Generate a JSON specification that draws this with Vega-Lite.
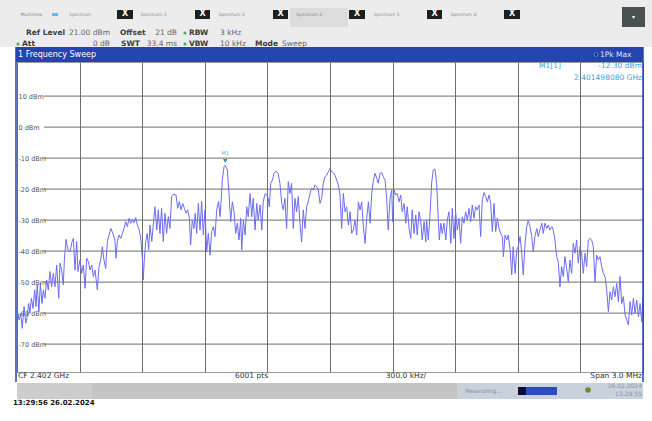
{
  "$schema": "https://vega.github.io/schema/vega-lite/v6.json",
  "width": 626,
  "height": 310,
  "autosize": {"type": "none"},
  "padding": {"left": 17, "top": 62, "right": 9, "bottom": 49},
  "background": "white",
  "config": {"view": {"stroke": "#9a9a9a", "strokeWidth": 1}, "text": {"font": "DejaVu Sans"}},
  "encoding": {
    "x": {"field": "f", "type": "quantitative", "scale": {"domain": [2400.5, 2403.5], "nice": false, "zero": false},
      "axis": {"title": null, "values": [2400.5, 2400.8, 2401.1, 2401.4, 2401.7, 2402.0, 2402.3, 2402.6, 2402.9, 2403.2, 2403.5], "grid": true, "gridColor": "#6e6e6e", "gridWidth": 1, "labels": false, "ticks": false, "domain": false}},
    "y": {"field": "dBm", "type": "quantitative", "scale": {"domain": [-79, 21], "nice": false, "zero": false},
      "axis": {"title": null, "values": [10, 0, -10, -20, -30, -40, -50, -60, -70], "grid": false, "domain": false, "ticks": false, "tickSize": 0, "labelAlign": "left", "labelBaseline": "middle", "labelPadding": -1, "labelExpr": "datum.value + ' dBm'", "labelFont": "DejaVu Sans", "labelFontSize": 6.5, "labelColor": "#555555", "zindex": 1}}
  },
  "datasets": {
    "trace": [
      {"f":2400.500,"dBm":-58.5},{"f":2400.510,"dBm":-62.2},{"f":2400.518,"dBm":-60.1},{"f":2400.525,"dBm":-64.9},{"f":2400.534,"dBm":-57.9},{"f":2400.542,"dBm":-63.3},{"f":2400.549,"dBm":-61.1},{"f":2400.556,"dBm":-56.9},{"f":2400.562,"dBm":-60.1},{"f":2400.569,"dBm":-55.2},{"f":2400.577,"dBm":-58.5},{"f":2400.585,"dBm":-52.5},{"f":2400.591,"dBm":-57.9},{"f":2400.597,"dBm":-50.9},{"f":2400.605,"dBm":-59.5},{"f":2400.612,"dBm":-50.4},{"f":2400.620,"dBm":-56.9},{"f":2400.626,"dBm":-52.5},{"f":2400.634,"dBm":-55.2},{"f":2400.642,"dBm":-49.3},{"f":2400.650,"dBm":-52.5},{"f":2400.658,"dBm":-46.6},{"f":2400.666,"dBm":-51.5},{"f":2400.674,"dBm":-47.2},{"f":2400.682,"dBm":-51.5},{"f":2400.690,"dBm":-44.5},{"f":2400.700,"dBm":-55.2},{"f":2400.706,"dBm":-43.9},{"f":2400.714,"dBm":-46.1},{"f":2400.722,"dBm":-50.9},{"f":2400.727,"dBm":-42.9},{"f":2400.735,"dBm":-36.2},{"f":2400.744,"dBm":-39.6},{"f":2400.754,"dBm":-40.2},{"f":2400.764,"dBm":-36.9},{"f":2400.770,"dBm":-35.9},{"f":2400.778,"dBm":-46.1},{"f":2400.786,"dBm":-36.9},{"f":2400.792,"dBm":-46.6},{"f":2400.802,"dBm":-42.9},{"f":2400.810,"dBm":-47.2},{"f":2400.818,"dBm":-44.5},{"f":2400.826,"dBm":-52.0},{"f":2400.834,"dBm":-42.3},{"f":2400.842,"dBm":-43.4},{"f":2400.850,"dBm":-46.1},{"f":2400.858,"dBm":-44.5},{"f":2400.866,"dBm":-48.2},{"f":2400.874,"dBm":-46.1},{"f":2400.885,"dBm":-52.5},{"f":2400.893,"dBm":-45.0},{"f":2400.901,"dBm":-42.9},{"f":2400.909,"dBm":-38.6},{"f":2400.917,"dBm":-42.9},{"f":2400.925,"dBm":-45.6},{"f":2400.933,"dBm":-36.9},{"f":2400.941,"dBm":-34.8},{"f":2400.950,"dBm":-32.7},{"f":2400.962,"dBm":-34.8},{"f":2400.970,"dBm":-36.9},{"f":2400.974,"dBm":-42.3},{"f":2400.981,"dBm":-36.9},{"f":2400.989,"dBm":-34.8},{"f":2400.997,"dBm":-35.9},{"f":2401.005,"dBm":-34.3},{"f":2401.013,"dBm":-32.7},{"f":2401.021,"dBm":-30.5},{"f":2401.029,"dBm":-32.1},{"f":2401.037,"dBm":-29.4},{"f":2401.045,"dBm":-31.0},{"f":2401.053,"dBm":-29.8},{"f":2401.061,"dBm":-30.8},{"f":2401.069,"dBm":-29.2},{"f":2401.077,"dBm":-31.6},{"f":2401.086,"dBm":-33.2},{"f":2401.094,"dBm":-36.4},{"f":2401.102,"dBm":-43.4},{"f":2401.105,"dBm":-49.3},{"f":2401.110,"dBm":-42.9},{"f":2401.117,"dBm":-36.9},{"f":2401.124,"dBm":-34.3},{"f":2401.131,"dBm":-39.6},{"f":2401.137,"dBm":-31.6},{"f":2401.146,"dBm":-36.9},{"f":2401.153,"dBm":-31.6},{"f":2401.161,"dBm":-25.7},{"f":2401.170,"dBm":-33.2},{"f":2401.177,"dBm":-26.7},{"f":2401.185,"dBm":-34.3},{"f":2401.193,"dBm":-26.2},{"f":2401.201,"dBm":-36.9},{"f":2401.209,"dBm":-27.8},{"f":2401.217,"dBm":-34.3},{"f":2401.225,"dBm":-28.9},{"f":2401.233,"dBm":-32.7},{"f":2401.241,"dBm":-22.4},{"f":2401.252,"dBm":-21.6},{"f":2401.262,"dBm":-21.9},{"f":2401.270,"dBm":-26.2},{"f":2401.278,"dBm":-24.0},{"f":2401.286,"dBm":-26.7},{"f":2401.294,"dBm":-24.6},{"f":2401.302,"dBm":-26.2},{"f":2401.310,"dBm":-27.8},{"f":2401.318,"dBm":-26.7},{"f":2401.326,"dBm":-29.4},{"f":2401.332,"dBm":-38.0},{"f":2401.340,"dBm":-30.0},{"f":2401.348,"dBm":-32.7},{"f":2401.354,"dBm":-27.8},{"f":2401.361,"dBm":-34.3},{"f":2401.369,"dBm":-24.6},{"f":2401.377,"dBm":-33.2},{"f":2401.385,"dBm":-24.0},{"f":2401.393,"dBm":-34.8},{"f":2401.401,"dBm":-26.7},{"f":2401.409,"dBm":-40.2},{"f":2401.417,"dBm":-34.3},{"f":2401.425,"dBm":-41.3},{"f":2401.433,"dBm":-33.7},{"f":2401.441,"dBm":-32.1},{"f":2401.449,"dBm":-35.3},{"f":2401.457,"dBm":-26.7},{"f":2401.466,"dBm":-24.0},{"f":2401.473,"dBm":-28.9},{"f":2401.478,"dBm":-24.1},{"f":2401.484,"dBm":-17.1},{"f":2401.492,"dBm":-12.8},{"f":2401.498,"dBm":-12.3},{"f":2401.508,"dBm":-13.8},{"f":2401.516,"dBm":-21.4},{"f":2401.524,"dBm":-30.5},{"f":2401.532,"dBm":-24.1},{"f":2401.540,"dBm":-27.3},{"f":2401.548,"dBm":-34.3},{"f":2401.556,"dBm":-31.0},{"f":2401.564,"dBm":-36.4},{"f":2401.572,"dBm":-29.4},{"f":2401.577,"dBm":-39.6},{"f":2401.585,"dBm":-30.0},{"f":2401.593,"dBm":-34.8},{"f":2401.601,"dBm":-25.7},{"f":2401.608,"dBm":-28.9},{"f":2401.617,"dBm":-21.4},{"f":2401.625,"dBm":-28.9},{"f":2401.632,"dBm":-23.0},{"f":2401.641,"dBm":-33.2},{"f":2401.649,"dBm":-24.6},{"f":2401.656,"dBm":-30.0},{"f":2401.665,"dBm":-25.1},{"f":2401.673,"dBm":-33.2},{"f":2401.680,"dBm":-24.1},{"f":2401.689,"dBm":-21.4},{"f":2401.697,"dBm":-21.9},{"f":2401.704,"dBm":-23.0},{"f":2401.709,"dBm":-25.7},{"f":2401.716,"dBm":-18.1},{"f":2401.724,"dBm":-17.1},{"f":2401.732,"dBm":-14.9},{"f":2401.741,"dBm":-14.2},{"f":2401.751,"dBm":-14.9},{"f":2401.760,"dBm":-18.1},{"f":2401.769,"dBm":-24.6},{"f":2401.776,"dBm":-26.7},{"f":2401.784,"dBm":-23.0},{"f":2401.792,"dBm":-32.7},{"f":2401.800,"dBm":-17.6},{"f":2401.808,"dBm":-21.4},{"f":2401.816,"dBm":-18.1},{"f":2401.824,"dBm":-32.7},{"f":2401.832,"dBm":-23.0},{"f":2401.840,"dBm":-27.3},{"f":2401.848,"dBm":-22.4},{"f":2401.856,"dBm":-31.0},{"f":2401.864,"dBm":-37.0},{"f":2401.872,"dBm":-26.7},{"f":2401.880,"dBm":-32.7},{"f":2401.888,"dBm":-25.7},{"f":2401.896,"dBm":-24.1},{"f":2401.904,"dBm":-21.4},{"f":2401.912,"dBm":-19.8},{"f":2401.920,"dBm":-20.3},{"f":2401.928,"dBm":-18.7},{"f":2401.936,"dBm":-19.2},{"f":2401.944,"dBm":-20.3},{"f":2401.952,"dBm":-24.6},{"f":2401.960,"dBm":-23.0},{"f":2401.968,"dBm":-18.1},{"f":2401.976,"dBm":-16.0},{"f":2401.984,"dBm":-15.5},{"f":2401.992,"dBm":-14.4},{"f":2402.000,"dBm":-13.3},{"f":2402.008,"dBm":-14.4},{"f":2402.016,"dBm":-14.7},{"f":2402.024,"dBm":-15.5},{"f":2402.032,"dBm":-17.1},{"f":2402.040,"dBm":-18.7},{"f":2402.048,"dBm":-21.9},{"f":2402.056,"dBm":-32.7},{"f":2402.064,"dBm":-21.4},{"f":2402.072,"dBm":-27.3},{"f":2402.080,"dBm":-25.7},{"f":2402.088,"dBm":-31.6},{"f":2402.096,"dBm":-27.3},{"f":2402.104,"dBm":-34.3},{"f":2402.112,"dBm":-33.2},{"f":2402.120,"dBm":-30.0},{"f":2402.128,"dBm":-34.8},{"f":2402.136,"dBm":-24.1},{"f":2402.144,"dBm":-26.7},{"f":2402.152,"dBm":-24.1},{"f":2402.160,"dBm":-32.1},{"f":2402.168,"dBm":-37.5},{"f":2402.176,"dBm":-29.4},{"f":2402.184,"dBm":-24.1},{"f":2402.192,"dBm":-31.0},{"f":2402.200,"dBm":-21.4},{"f":2402.208,"dBm":-17.1},{"f":2402.216,"dBm":-14.9},{"f":2402.224,"dBm":-16.5},{"f":2402.231,"dBm":-18.1},{"f":2402.240,"dBm":-14.9},{"f":2402.248,"dBm":-14.7},{"f":2402.255,"dBm":-16.0},{"f":2402.264,"dBm":-17.1},{"f":2402.272,"dBm":-23.5},{"f":2402.279,"dBm":-33.2},{"f":2402.288,"dBm":-23.0},{"f":2402.296,"dBm":-20.3},{"f":2402.300,"dBm":-30.5},{"f":2402.307,"dBm":-20.3},{"f":2402.315,"dBm":-21.9},{"f":2402.322,"dBm":-21.4},{"f":2402.331,"dBm":-24.1},{"f":2402.339,"dBm":-21.9},{"f":2402.346,"dBm":-27.3},{"f":2402.355,"dBm":-24.6},{"f":2402.363,"dBm":-31.0},{"f":2402.370,"dBm":-25.7},{"f":2402.379,"dBm":-32.7},{"f":2402.387,"dBm":-35.9},{"f":2402.394,"dBm":-26.7},{"f":2402.403,"dBm":-34.3},{"f":2402.411,"dBm":-28.4},{"f":2402.418,"dBm":-34.8},{"f":2402.427,"dBm":-27.3},{"f":2402.435,"dBm":-30.5},{"f":2402.442,"dBm":-36.4},{"f":2402.451,"dBm":-30.5},{"f":2402.459,"dBm":-37.0},{"f":2402.463,"dBm":-30.0},{"f":2402.471,"dBm":-36.4},{"f":2402.479,"dBm":-28.9},{"f":2402.487,"dBm":-18.1},{"f":2402.495,"dBm":-13.8},{"f":2402.503,"dBm":-13.5},{"f":2402.511,"dBm":-18.1},{"f":2402.519,"dBm":-30.0},{"f":2402.524,"dBm":-36.4},{"f":2402.531,"dBm":-31.0},{"f":2402.538,"dBm":-34.3},{"f":2402.546,"dBm":-31.0},{"f":2402.555,"dBm":-36.4},{"f":2402.562,"dBm":-30.0},{"f":2402.570,"dBm":-27.3},{"f":2402.579,"dBm":-37.5},{"f":2402.586,"dBm":-26.2},{"f":2402.594,"dBm":-35.9},{"f":2402.602,"dBm":-27.3},{"f":2402.610,"dBm":-33.2},{"f":2402.618,"dBm":-29.4},{"f":2402.626,"dBm":-37.5},{"f":2402.634,"dBm":-28.9},{"f":2402.642,"dBm":-31.0},{"f":2402.650,"dBm":-27.3},{"f":2402.658,"dBm":-30.0},{"f":2402.666,"dBm":-26.2},{"f":2402.674,"dBm":-30.5},{"f":2402.682,"dBm":-25.1},{"f":2402.690,"dBm":-29.4},{"f":2402.698,"dBm":-25.7},{"f":2402.706,"dBm":-26.7},{"f":2402.714,"dBm":-25.1},{"f":2402.722,"dBm":-35.3},{"f":2402.730,"dBm":-23.5},{"f":2402.738,"dBm":-21.1},{"f":2402.746,"dBm":-22.4},{"f":2402.754,"dBm":-24.1},{"f":2402.762,"dBm":-21.9},{"f":2402.770,"dBm":-24.6},{"f":2402.778,"dBm":-33.7},{"f":2402.786,"dBm":-24.6},{"f":2402.794,"dBm":-33.7},{"f":2402.802,"dBm":-29.4},{"f":2402.810,"dBm":-32.7},{"f":2402.818,"dBm":-34.3},{"f":2402.826,"dBm":-35.3},{"f":2402.831,"dBm":-41.8},{"f":2402.839,"dBm":-34.8},{"f":2402.847,"dBm":-36.4},{"f":2402.854,"dBm":-34.8},{"f":2402.863,"dBm":-39.6},{"f":2402.871,"dBm":-47.7},{"f":2402.878,"dBm":-38.6},{"f":2402.887,"dBm":-47.2},{"f":2402.895,"dBm":-39.6},{"f":2402.902,"dBm":-38.6},{"f":2402.911,"dBm":-35.3},{"f":2402.919,"dBm":-40.7},{"f":2402.926,"dBm":-47.7},{"f":2402.935,"dBm":-37.5},{"f":2402.943,"dBm":-32.1},{"f":2402.950,"dBm":-30.0},{"f":2402.958,"dBm":-32.1},{"f":2402.967,"dBm":-35.3},{"f":2402.974,"dBm":-40.2},{"f":2402.982,"dBm":-35.3},{"f":2402.991,"dBm":-32.7},{"f":2402.998,"dBm":-35.3},{"f":2403.006,"dBm":-33.2},{"f":2403.015,"dBm":-31.0},{"f":2403.022,"dBm":-34.3},{"f":2403.030,"dBm":-31.0},{"f":2403.039,"dBm":-32.7},{"f":2403.046,"dBm":-31.6},{"f":2403.054,"dBm":-33.2},{"f":2403.063,"dBm":-32.1},{"f":2403.070,"dBm":-33.2},{"f":2403.078,"dBm":-36.4},{"f":2403.086,"dBm":-41.8},{"f":2403.094,"dBm":-43.4},{"f":2403.102,"dBm":-51.5},{"f":2403.110,"dBm":-45.0},{"f":2403.118,"dBm":-48.2},{"f":2403.126,"dBm":-41.8},{"f":2403.134,"dBm":-45.6},{"f":2403.142,"dBm":-49.9},{"f":2403.150,"dBm":-42.9},{"f":2403.158,"dBm":-47.2},{"f":2403.166,"dBm":-37.5},{"f":2403.174,"dBm":-40.7},{"f":2403.182,"dBm":-36.4},{"f":2403.190,"dBm":-43.9},{"f":2403.198,"dBm":-38.6},{"f":2403.206,"dBm":-40.7},{"f":2403.214,"dBm":-47.2},{"f":2403.222,"dBm":-40.7},{"f":2403.230,"dBm":-45.0},{"f":2403.238,"dBm":-36.4},{"f":2403.246,"dBm":-35.9},{"f":2403.254,"dBm":-36.4},{"f":2403.262,"dBm":-38.6},{"f":2403.270,"dBm":-49.9},{"f":2403.278,"dBm":-41.3},{"f":2403.286,"dBm":-42.9},{"f":2403.294,"dBm":-41.8},{"f":2403.302,"dBm":-45.0},{"f":2403.310,"dBm":-47.2},{"f":2403.318,"dBm":-48.2},{"f":2403.326,"dBm":-52.5},{"f":2403.334,"dBm":-59.5},{"f":2403.342,"dBm":-53.1},{"f":2403.350,"dBm":-55.8},{"f":2403.358,"dBm":-51.5},{"f":2403.366,"dBm":-54.7},{"f":2403.374,"dBm":-50.4},{"f":2403.382,"dBm":-56.3},{"f":2403.390,"dBm":-48.2},{"f":2403.398,"dBm":-56.9},{"f":2403.406,"dBm":-54.7},{"f":2403.414,"dBm":-60.6},{"f":2403.422,"dBm":-62.2},{"f":2403.430,"dBm":-63.8},{"f":2403.438,"dBm":-56.3},{"f":2403.446,"dBm":-60.6},{"f":2403.454,"dBm":-55.2},{"f":2403.462,"dBm":-60.1},{"f":2403.470,"dBm":-55.8},{"f":2403.478,"dBm":-61.1},{"f":2403.486,"dBm":-56.9},{"f":2403.494,"dBm":-62.8},{"f":2403.500,"dBm":-54.7}
    ],
    "levels": [{"dBm":10,"f":2400.63,"f2":2403.5},{"dBm":0,"f":2400.63,"f2":2403.5},{"dBm":-10,"f":2400.63,"f2":2403.5},{"dBm":-20,"f":2400.63,"f2":2403.5},{"dBm":-30,"f":2400.63,"f2":2403.5},{"dBm":-40,"f":2400.63,"f2":2403.5},{"dBm":-50,"f":2400.63,"f2":2403.5},{"dBm":-60,"f":2400.63,"f2":2403.5},{"dBm":-70,"f":2400.63,"f2":2403.5}]
  },
  "layer": [
    {"data": {"values": [{"f": 2400.4185, "f2": 2403.5431, "dBm": 41, "dBm2": 25.839}]},
     "mark": {"type": "rect", "color": "#ececec"}, "encoding": {"x2": {"field": "f2"}, "y2": {"field": "dBm2"}}},
    {"data": {"values": [{"f": 2401.8083, "f2": 2402.0862, "dBm": 38.419, "dBm2": 32.29}]},
     "mark": {"type": "rect", "color": "#dcdcdc"}, "encoding": {"x2": {"field": "f2"}, "y2": {"field": "dBm2"}}},
    {"data": {"values": [
      {"f": 2400.9792, "f2": 2401.0559, "dBm": 37.774, "dBm2": 34.871},
      {"f": 2401.3530, "f2": 2401.4249, "dBm": 37.774, "dBm2": 34.871},
      {"f": 2401.7268, "f2": 2401.7987, "dBm": 37.774, "dBm2": 34.871},
      {"f": 2402.0910, "f2": 2402.1677, "dBm": 37.774, "dBm2": 34.871},
      {"f": 2402.4648, "f2": 2402.5367, "dBm": 37.774, "dBm2": 34.871},
      {"f": 2402.8339, "f2": 2402.9105, "dBm": 37.774, "dBm2": 34.871}]},
     "mark": {"type": "rect", "color": "#1e1e1e"}, "encoding": {"x2": {"field": "f2"}, "y2": {"field": "dBm2"}}},
    {"data": {"values": [{"label": "X", "f": 2401.0176, "dBm": 36.323}, {"label": "X", "f": 2401.3890, "dBm": 36.323}, {"label": "X", "f": 2401.7628, "dBm": 36.323}, {"label": "X", "f": 2402.1294, "dBm": 36.323}, {"label": "X", "f": 2402.5008, "dBm": 36.323}, {"label": "X", "f": 2402.8722, "dBm": 36.323}]},
     "mark": {"type": "text", "color": "white", "fontSize": 8, "fontWeight": "bold", "align": "center", "baseline": "middle"}, "encoding": {"text": {"field": "label"}}},
    {"data": {"values": [{"f": 2403.3993, "f2": 2403.5096, "dBm": 38.742, "dBm2": 32.29}]},
     "mark": {"type": "rect", "color": "#4a5152"}, "encoding": {"x2": {"field": "f2"}, "y2": {"field": "dBm2"}}},
    {"data": {"values": [{"label": "▾", "f": 2403.4544, "dBm": 35.516}]},
     "mark": {"type": "text", "color": "white", "fontSize": 6, "align": "center", "baseline": "middle"}, "encoding": {"text": {"field": "label"}}},
    {"data": {"values": [{"f": 2400.6677, "f2": 2400.6965, "dBm": 36.806, "dBm2": 35.839}]},
     "mark": {"type": "rect", "color": "#5bc0f0"}, "encoding": {"x2": {"field": "f2"}, "y2": {"field": "dBm2"}}},
    {"data": {"values": [
      {"label": "MultiView", "f": 2400.5695, "dBm": 36.161},
      {"label": "Spectrum", "f": 2400.8019, "dBm": 36.161},
      {"label": "Spectrum 2", "f": 2401.1541, "dBm": 36.161},
      {"label": "Spectrum 3", "f": 2401.5280, "dBm": 36.161},
      {"label": "Spectrum 4", "f": 2401.8994, "dBm": 36.161},
      {"label": "Spectrum 5", "f": 2402.2707, "dBm": 36.161},
      {"label": "Spectrum 6", "f": 2402.6397, "dBm": 36.161}]},
     "mark": {"type": "text", "color": "#8a8a8a", "fontSize": 4.5, "align": "center", "baseline": "middle"}, "encoding": {"text": {"field": "label"}}},
    {"data": {"values": [
      {"label": "Ref Level", "f": 2400.5431, "dBm": 30.355},
      {"label": "Offset", "f": 2400.9936, "dBm": 30.355},
      {"label": "RBW", "f": 2401.3243, "dBm": 30.355},
      {"label": "Att", "f": 2400.524, "dBm": 26.806},
      {"label": "SWT", "f": 2400.9984, "dBm": 26.806},
      {"label": "VBW", "f": 2401.3243, "dBm": 26.806},
      {"label": "Mode", "f": 2401.6406, "dBm": 26.806}]},
     "mark": {"type": "text", "color": "#3a3a3a", "fontSize": 7.5, "fontWeight": "bold", "align": "left", "baseline": "middle"}, "encoding": {"text": {"field": "label"}}},
    {"data": {"values": [
      {"label": "21.00 dBm", "f": 2400.9457, "dBm": 30.355},
      {"label": "21 dB", "f": 2401.2668, "dBm": 30.355},
      {"label": "0 dB", "f": 2400.9457, "dBm": 26.806},
      {"label": "33.4 ms", "f": 2401.2668, "dBm": 26.806}]},
     "mark": {"type": "text", "color": "#666666", "fontSize": 7.5, "align": "right", "baseline": "middle"}, "encoding": {"text": {"field": "label"}}},
    {"data": {"values": [
      {"label": "3 kHz", "f": 2401.4728, "dBm": 30.355},
      {"label": "10 kHz", "f": 2401.4728, "dBm": 26.806},
      {"label": "Sweep", "f": 2401.7700, "dBm": 26.806}]},
     "mark": {"type": "text", "color": "#666666", "fontSize": 7.5, "align": "left", "baseline": "middle"}, "encoding": {"text": {"field": "label"}}},
    {"data": {"values": [{"f": 2401.3051, "dBm": 30.355}, {"f": 2401.3051, "dBm": 26.806}, {"f": 2400.5048, "dBm": 26.806}]},
     "mark": {"type": "circle", "color": "#3ab54a", "size": 9, "opacity": 1}},
    {"data": {"values": [{"f": 2400.4952, "f2": 2403.5, "dBm": 25.839, "dBm2": 21}]},
     "mark": {"type": "rect", "color": "#2544b0"}, "encoding": {"x2": {"field": "f2"}, "y2": {"field": "dBm2"}}},
    {"data": {"values": [{"label": "1 Frequency Sweep", "f": 2400.5048, "dBm": 23.4}]},
     "mark": {"type": "text", "color": "white", "fontSize": 8, "align": "left", "baseline": "middle"}, "encoding": {"text": {"field": "label"}}},
    {"data": {"values": [{"label": "1Pk Max", "f": 2403.2939, "dBm": 23.4}]},
     "mark": {"type": "text", "color": "#dfe6ff", "fontSize": 7.5, "align": "left", "baseline": "middle"}, "encoding": {"text": {"field": "label"}}},
    {"data": {"values": [{"f": 2403.2747, "dBm": 23.4}]},
     "mark": {"type": "circle", "color": "#0b1a5a", "size": 12, "opacity": 1, "stroke": "#9fb4ff", "strokeWidth": 0.6}},
    {"data": {"name": "levels"},
     "mark": {"type": "rule", "color": "#6e6e6e", "strokeWidth": 1}, "encoding": {"x2": {"field": "f2"}}},
    {"data": {"name": "trace"},
     "mark": {"type": "line", "color": "#6c6cf2", "strokeWidth": 1, "interpolate": "linear"}},
    {"data": {"values": [{"f": 2401.4981, "dBm": -10.935}]},
     "mark": {"type": "point", "shape": "triangle-down", "filled": true, "color": "#2b8fd6", "size": 20, "opacity": 1}},
    {"data": {"values": [{"label": "M1", "f": 2401.4981, "dBm": -8.5}]},
     "mark": {"type": "text", "color": "#5ab0e8", "fontSize": 5, "align": "center", "baseline": "middle"}, "encoding": {"text": {"field": "label"}}},
    {"data": {"values": [{"label": "M1[1]", "f": 2403.0016, "dBm": 19.71}]},
     "mark": {"type": "text", "color": "#3ba0e0", "fontSize": 7.5, "align": "left", "baseline": "middle"}, "encoding": {"text": {"field": "label"}}},
    {"data": {"values": [{"label": "-12.30 dBm", "f": 2403.4952, "dBm": 19.71}, {"label": "2.401498080 GHz", "f": 2403.4952, "dBm": 15.839}]},
     "mark": {"type": "text", "color": "#3ba0e0", "fontSize": 7.5, "align": "right", "baseline": "middle"}, "encoding": {"text": {"field": "label"}}},
    {"data": {"values": [{"f": 2400.4952, "dBm": 25.839, "dBm2": -82.226}, {"f": 2403.5, "dBm": 25.839, "dBm2": -82.226}]},
     "mark": {"type": "rule", "color": "#2544b0", "strokeWidth": 1.5}, "encoding": {"y2": {"field": "dBm2"}}},
    {"data": {"values": [{"label": "CF 2.402 GHz", "f": 2400.5048, "dBm": -80.29}]},
     "mark": {"type": "text", "color": "#333333", "fontSize": 7.5, "align": "left", "baseline": "middle"}, "encoding": {"text": {"field": "label"}}},
    {"data": {"values": [{"label": "6001 pts", "f": 2401.6238, "dBm": -80.29}, {"label": "300.0 kHz/", "f": 2402.3642, "dBm": -80.29}]},
     "mark": {"type": "text", "color": "#333333", "fontSize": 7.5, "align": "center", "baseline": "middle"}, "encoding": {"text": {"field": "label"}}},
    {"data": {"values": [{"label": "Span 3.0 MHz", "f": 2403.4952, "dBm": -80.29}]},
     "mark": {"type": "text", "color": "#333333", "fontSize": 7.5, "align": "right", "baseline": "middle"}, "encoding": {"text": {"field": "label"}}},
    {"data": {"values": [{"f": 2400.5, "f2": 2402.6086, "dBm": -82.548, "dBm2": -87.71}]},
     "mark": {"type": "rect", "color": "#c4c4c4"}, "encoding": {"x2": {"field": "f2"}, "y2": {"field": "dBm2"}}},
    {"data": {"values": [{"f": 2400.5, "f2": 2400.8594, "dBm": -82.548, "dBm2": -87.71}]},
     "mark": {"type": "rect", "color": "#cdcdcd"}, "encoding": {"x2": {"field": "f2"}, "y2": {"field": "dBm2"}}},
    {"data": {"values": [{"f": 2402.6086, "f2": 2403.5, "dBm": -82.548, "dBm2": -87.71}]},
     "mark": {"type": "rect", "color": "#c9d2dc"}, "encoding": {"x2": {"field": "f2"}, "y2": {"field": "dBm2"}}},
    {"data": {"values": [{"label": "Measuring...", "f": 2402.647, "dBm": -85.129}]},
     "mark": {"type": "text", "color": "#8494a6", "fontSize": 6, "align": "left", "baseline": "middle"}, "encoding": {"text": {"field": "label"}}},
    {"data": {"values": [{"f": 2402.9009, "f2": 2403.0878, "dBm": -83.84, "dBm2": -86.42}]},
     "mark": {"type": "rect", "color": "#2a4cc0"}, "encoding": {"x2": {"field": "f2"}, "y2": {"field": "dBm2"}}},
    {"data": {"values": [{"f": 2402.9009, "f2": 2402.9393, "dBm": -83.84, "dBm2": -86.42}]},
     "mark": {"type": "rect", "color": "#0a0a40"}, "encoding": {"x2": {"field": "f2"}, "y2": {"field": "dBm2"}}},
    {"data": {"values": [{"f": 2403.2364, "dBm": -84.806}]},
     "mark": {"type": "circle", "color": "#6a8a30", "size": 30, "opacity": 1}},
    {"data": {"values": [{"label": "26.02.2024", "f": 2403.4952, "dBm": -83.516}, {"label": "13:29:55", "f": 2403.4952, "dBm": -86.097}]},
     "mark": {"type": "text", "color": "#8a95a0", "fontSize": 6, "align": "right", "baseline": "middle"}, "encoding": {"text": {"field": "label"}}},
    {"data": {"values": [{"label": "13:29:56  26.02.2024", "f": 2400.4808, "dBm": -89.0}]},
     "mark": {"type": "text", "color": "#111111", "fontSize": 7, "fontWeight": "bold", "align": "left", "baseline": "middle"}, "encoding": {"text": {"field": "label"}}}
  ]
}
